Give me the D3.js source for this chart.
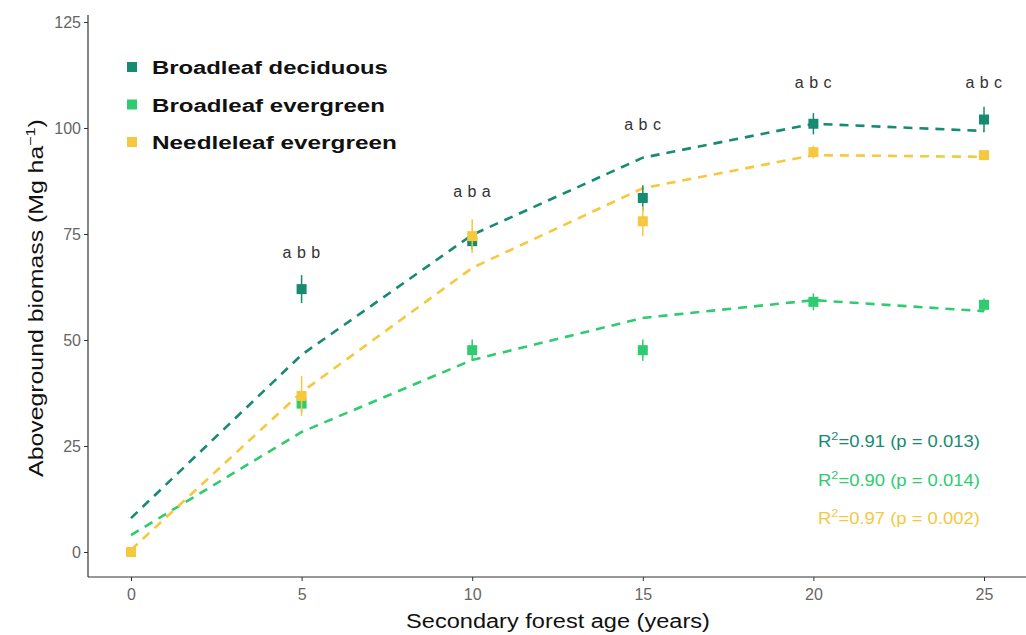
<!DOCTYPE html>
<html><head><meta charset="utf-8">
<script src="https://cdn.jsdelivr.net/npm/d3@7"></script>
<style>body{margin:0;background:#fff}svg{display:block}</style>
</head><body>
<svg id="c" width="1026" height="635"></svg>
<script>
const ages = [0, 5, 10, 15, 20, 25];
const seriesNames = ["Broadleaf deciduous", "Broadleaf evergreen", "Needleleaf evergreen"];
const seriesColors = ["#178a72", "#2ecb6f", "#f5c83e"];
const decidMean = [0, 62, 73.3, 83.5, 101, 102];
const decidErr = [0.5, 3.3, 2, 3, 2.5, 3];
const decidFit = [8, 46.5, 74.8, 93, 101, 99.3];
const everMean = [0, 35, 47.6, 47.6, 59, 58.3];
const everErr = [0.5, 2, 2.5, 2.5, 2, 1.5];
const everFit = [4, 28.3, 45.3, 55.2, 59.4, 56.8];
const needleMean = [0, 36.8, 74.5, 78, 94.3, 93.6];
const needleErr = [0.5, 4.7, 4, 3.5, 1.5, 1];
const needleFit = [0.5, 37.7, 67, 85.8, 93.6, 93.2];
const letterAges = [5, 10, 15, 20, 25];
const letterLabels = ["a b b", "a b a", "a b c", "a b c", "a b c"];
const letterY = [69.3, 83.7, 99.5, 109.4, 109.4];
const r2Labels = [["0.91", "0.013"], ["0.90", "0.014"], ["0.97", "0.002"]];
const yTicks = [0, 25, 50, 75, 100, 125];
const xTicks = [0, 5, 10, 15, 20, 25];

const FONT = "Liberation Sans, Arial, sans-serif";
const svg = d3.select("#c");
const x = d3.scaleLinear().domain([-1.26, 26.26]).range([88, 1027]);
const y = d3.scaleLinear().domain([0, 125]).range([552, 22]);
const axisBottomY = 577, axisTopY = 15;

const series = [
  {mean: decidMean, err: decidErr, fit: decidFit},
  {mean: everMean, err: everErr, fit: everFit},
  {mean: needleMean, err: needleErr, fit: needleFit}
];

// stretch a text horizontally (in its own frame) to a target length
function fitText(g, text, target) {
  const w = text.node().getComputedTextLength();
  const s = target / w;
  const t = g.attr("transform") || "";
  g.attr("transform", t + ` scale(${s},1)`);
}

// axes
const gy = svg.append("g").attr("transform", "translate(88,0)")
  .call(d3.axisLeft(y).tickValues(yTicks).tickSize(4).tickPadding(3));
gy.select(".domain").remove();
gy.append("line").attr("x1", 0).attr("x2", 0).attr("y1", axisTopY).attr("y2", axisBottomY)
  .attr("stroke", "#333").attr("stroke-width", 1.2);
gy.selectAll(".tick line").attr("stroke", "#333");
gy.selectAll(".tick text").attr("fill", "#666").style("font-family", FONT).style("font-size", "16px");

const gx = svg.append("g").attr("transform", `translate(0,${axisBottomY})`)
  .call(d3.axisBottom(x).tickValues(xTicks).tickSize(4).tickPadding(8));
gx.select(".domain").remove();
gx.append("line").attr("x1", 88).attr("x2", 1026).attr("y1", 0).attr("y2", 0)
  .attr("stroke", "#333").attr("stroke-width", 1.2);
gx.selectAll(".tick line").attr("stroke", "#333");
gx.selectAll(".tick text").attr("fill", "#666").style("font-family", FONT).style("font-size", "16px");

// fit lines
const line = d3.line().x((d, i) => x(ages[i])).y(d => y(d));
series.forEach((s, k) => {
  svg.append("path").attr("d", line(s.fit)).attr("fill", "none")
    .attr("stroke", seriesColors[k]).attr("stroke-width", 2.6)
    .attr("stroke-dasharray", "9,7");
});

// error bars and points
[0, 1, 2].forEach(k => {
  const s = series[k];
  const g = svg.append("g");
  ages.forEach((a, i) => {
    g.append("line").attr("x1", x(a)).attr("x2", x(a))
      .attr("y1", y(s.mean[i] - s.err[i])).attr("y2", y(s.mean[i] + s.err[i]))
      .attr("stroke", seriesColors[k]).attr("stroke-width", 1.5);
    g.append("rect").attr("x", x(a) - 5).attr("y", y(s.mean[i]) - 5)
      .attr("width", 10).attr("height", 10).attr("fill", seriesColors[k]);
  });
});

// letters
letterAges.forEach((a, i) => {
  svg.append("text").attr("x", x(a)).attr("y", y(letterY[i]))
    .attr("text-anchor", "middle").attr("fill", "#333")
    .style("font-family", FONT).style("font-size", "16px")
    .style("letter-spacing", "0.5px")
    .text(letterLabels[i]);
});

// legend
const legendW = [236, 233, 245];
seriesNames.forEach((n, k) => {
  const yy = 67 + k * 37.5;
  svg.append("rect").attr("x", 127).attr("y", yy - 5).attr("width", 10).attr("height", 10).attr("fill", seriesColors[k]);
  const g = svg.append("g").attr("transform", `translate(152,${yy + 7})`);
  const t = g.append("text").attr("fill", "#111")
    .style("font-family", FONT).style("font-size", "19px").style("font-weight", "bold")
    .text(n);
  fitText(g, t, legendW[k]);
});

// R2 labels
r2Labels.forEach((r, k) => {
  const g = svg.append("g").attr("transform", `translate(818,${447 + k * 38.5})`);
  const t = g.append("text").attr("fill", seriesColors[k])
    .style("font-family", FONT).style("font-size", "16px");
  t.append("tspan").text("R");
  t.append("tspan").attr("dy", -7).style("font-size", "11px").text("2");
  t.append("tspan").attr("dy", 7).text(`=${r[0]} (p = ${r[1]})`);
  fitText(g, t, 162);
});

// axis titles
{
  const g = svg.append("g").attr("transform", "translate(558,628)");
  const t = g.append("text").attr("text-anchor", "middle").attr("fill", "#111")
    .style("font-family", FONT).style("font-size", "21px")
    .text("Secondary forest age (years)");
  fitText(g, t, 304);
}
{
  const g = svg.append("g").attr("transform", "translate(43,298) rotate(-90)");
  const t = g.append("text").attr("text-anchor", "middle").attr("fill", "#111")
    .style("font-family", FONT).style("font-size", "20px");
  t.append("tspan").text("Aboveground biomass (Mg ha");
  t.append("tspan").attr("dy", -8).style("font-size", "13px").text("−1");
  t.append("tspan").attr("dy", 8).text(")");
  fitText(g, t, 358);
}
</script>
</body></html>
